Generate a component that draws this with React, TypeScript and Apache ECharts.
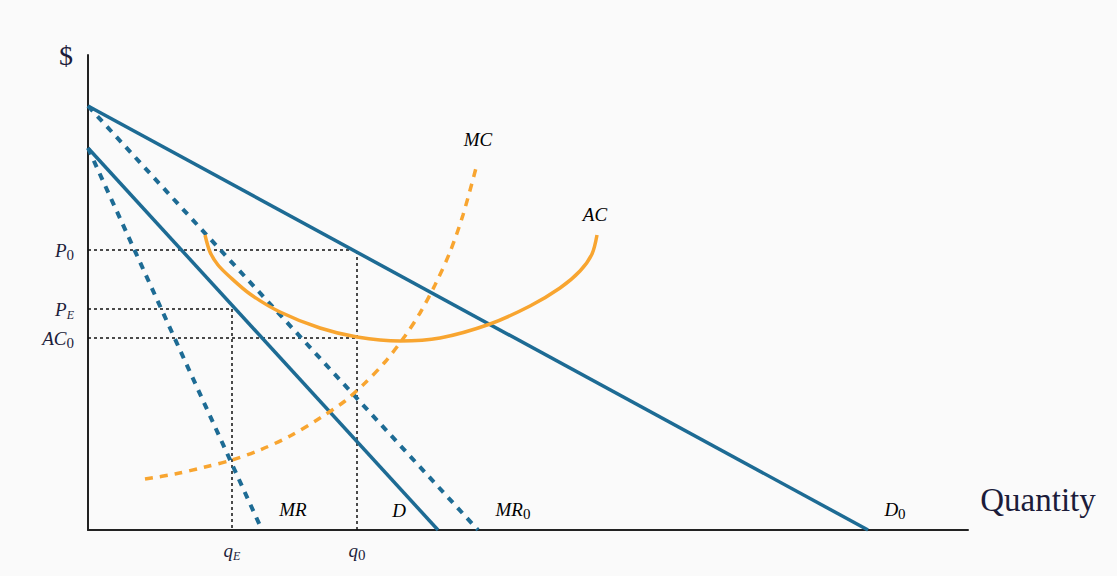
import React, { useEffect, useRef } from "react";
import * as echarts from "echarts";

// Economic model values (quantity units, price units)
const D0_line: [number, number][] = [[0, 42.4], [78, 0]];
const MR0_line: [number, number][] = [[0, 42.4], [39, 0]];
const D_line: [number, number][] = [[0, 38.2], [35, 0]];
const MR_line: [number, number][] = [[0, 38.2], [17.4, 0]];
const MC_curve: [number, number][] = [
  [5.7, 5.1], [8.7, 5.6], [11.7, 6.3], [14.4, 7.0], [17.2, 8.0], [20.2, 9.4],
  [23.2, 11.2], [25.7, 12.9], [27.7, 14.7], [29.7, 16.8], [31.7, 19.4], [33.2, 21.7],
  [34.7, 24.5], [36.2, 27.8], [37.5, 31.5], [38.8, 36.2],
];
const AC_curve: [number, number][] = [
  [11.7, 29.5], [12.2, 27.8], [13.0, 26.5], [14.2, 25.3], [16.2, 23.6], [19.2, 21.8],
  [23.2, 20.2], [26.9, 19.3], [31.2, 18.9], [35.2, 19.2], [40.2, 20.6], [44.2, 22.4],
  [47.2, 24.2], [49.2, 25.9], [50.4, 27.6], [50.9, 29.5],
];
const q0 = 26.9;
const qE = 14.4;
const P0 = 28.0;
const PE = 22.1;
const AC0 = 19.2;
const xTickValues = [qE, q0];
const yTickValues = [AC0, PE, P0];
const xTickLabels = ["{i|q}{se|E}", "{i|q}{s|0}"];
const yTickLabels = ["{i|AC}{s|0}", "{i|P}{se|E}", "{i|P}{s|0}"];

const BLUE = "#1d6b94";
const ORANGE = "#f8a530";
const INK = "#1c1c3a";
const SERIF = "'Liberation Serif', 'DejaVu Serif', serif";

const rich = {
  i: { fontFamily: SERIF, fontStyle: "italic", fontSize: 19, color: INK, lineHeight: 20, verticalAlign: "middle" },
  s: { fontFamily: SERIF, fontSize: 15, color: INK, lineHeight: 24, verticalAlign: "bottom" },
  se: { fontFamily: SERIF, fontStyle: "italic", fontSize: 12, color: INK, lineHeight: 24, verticalAlign: "bottom" },
};

export default function App() {
  const ref = useRef<HTMLDivElement>(null);
  useEffect(() => {
    const chart = echarts.init(ref.current!, null, { renderer: "svg" });
    const dotted = { color: "#111", width: 1.5, type: [3, 3] as any };
    const labelAt = (text: string, x: number, y: number) => ({
      type: "text", x, y,
      style: { text, rich, textAlign: "center", textVerticalAlign: "middle" },
    });
    chart.setOption({
      animation: false,
      backgroundColor: "#fafafa",
      grid: { left: 88, top: 55, width: 880, height: 475 },
      xAxis: {
        type: "value", min: 0, max: 88,
        axisLine: { show: true, lineStyle: { color: "#222", width: 2 } },
        axisTick: { show: false },
        splitLine: { show: false },
        axisLabel: {
          customValues: xTickValues,
          margin: 8,
          formatter: (v: number) => xTickLabels[xTickValues.indexOf(v)] ?? "",
          rich,
        },
      },
      yAxis: {
        type: "value", min: 0, max: 47.5,
        axisLine: { show: true, lineStyle: { color: "#222", width: 2 } },
        axisTick: { show: false },
        splitLine: { show: false },
        axisLabel: {
          customValues: yTickValues,
          margin: 14,
          formatter: (v: number) => yTickLabels[yTickValues.indexOf(v)] ?? "",
          rich,
        },
      },
      graphic: [
        { type: "text", x: 66, y: 55, style: { text: "$", font: `28px ${SERIF}`, fill: INK, textAlign: "center", textVerticalAlign: "middle" } },
        { type: "text", x: 1038, y: 500, style: { text: "Quantity", font: `33px ${SERIF}`, fill: INK, textAlign: "center", textVerticalAlign: "middle" } },
        labelAt("{i|MC}", 478, 139),
        labelAt("{i|AC}", 595, 214),
        labelAt("{i|MR}", 293, 509),
        labelAt("{i|D}", 399, 510),
        labelAt("{i|MR}{s|0}", 513, 509),
        labelAt("{i|D}{s|0}", 895, 509),
      ],
      series: [
        { type: "line", data: [[0, P0], [q0, P0], [q0, 0]], symbol: "none", lineStyle: dotted, z: 1 },
        { type: "line", data: [[0, PE], [qE, PE], [qE, 0]], symbol: "none", lineStyle: dotted, z: 1 },
        { type: "line", data: [[0, AC0], [q0, AC0]], symbol: "none", lineStyle: dotted, z: 1 },
        { type: "line", data: D0_line, symbol: "none", lineStyle: { color: BLUE, width: 3.5 } },
        { type: "line", data: D_line, symbol: "none", lineStyle: { color: BLUE, width: 3.5 } },
        { type: "line", data: MR0_line, symbol: "none", lineStyle: { color: BLUE, width: 4, type: [7, 7] } },
        { type: "line", data: MR_line, symbol: "none", lineStyle: { color: BLUE, width: 4, type: [7, 7] } },
        { type: "line", data: MC_curve, symbol: "none", smooth: 0.3, lineStyle: { color: ORANGE, width: 3.5, type: [8, 7] } },
        { type: "line", data: AC_curve, symbol: "none", smooth: 0.3, lineStyle: { color: ORANGE, width: 3.5 } },
      ],
    });
    return () => chart.dispose();
  }, []);
  return <div ref={ref} style={{ position: "fixed", left: 0, top: 0, width: 1117, height: 576 }} />;
}
